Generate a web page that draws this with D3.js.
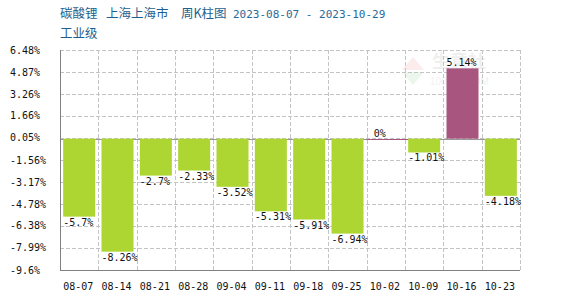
<!DOCTYPE html>
<html>
<head>
<meta charset="utf-8">
<script src="https://cdn.jsdelivr.net/npm/d3@7"></script>
<style>
  body { margin: 0; background: #fff; }
  svg { display: block; }
  .mono { font-family: "DejaVu Sans Mono", "Liberation Mono", monospace; }
  .cjk { font-family: "Noto Sans CJK SC", sans-serif; }
</style>
</head>
<body>
<svg id="chart" width="570" height="300"></svg>
<script>
(function() {
  'use strict';

  // weekly change, %
  var weeks = ['08-07', '08-14', '08-21', '08-28', '09-04', '09-11',
    '09-18', '09-25', '10-02', '10-09', '10-16', '10-23'];
  var changes = [-5.7, -8.26, -2.7, -2.33, -3.52, -5.31, -5.91, -6.94, 0, -1.01, 5.14, -4.18];
  var yTicks = [6.48, 4.87, 3.26, 1.66, 0.05, -1.56, -3.17, -4.78, -6.38, -7.99, -9.6];
  var titleParts = ['碳酸锂', '上海上海市', '周K柱图'];
  var dateRange = '2023-08-07 - 2023-10-29';

  var svg = d3.select('#chart');
  var left = 60, right = 520, top = 50, bottom = 270;

  var x = d3.scaleBand().domain(weeks).range([left, right]).paddingInner(0).paddingOuter(0);
  var y = d3.scaleLinear().domain([-9.6, 6.48]).range([bottom, top]);
  var bw = 32, off = (x.bandwidth() - bw) / 2;

  // title
  var tx = [60, 106, 181];
  svg.append('g').attr('class', 'cjk').attr('font-size', 12.5).attr('fill', '#1d5f8e')
    .selectAll('text').data(titleParts).enter().append('text')
    .attr('x', function(d, i) { return tx[i]; }).attr('y', 18)
    .text(function(d) { return d; });
  svg.append('text').attr('class', 'mono').attr('font-size', 11).attr('fill', '#2a6a98')
    .attr('x', 233).attr('y', 18).text(dateRange);
  svg.append('text').attr('class', 'cjk').attr('x', 60).attr('y', 38).attr('fill', '#1d5f8e')
    .attr('font-size', 12.5).text('工业级');

  // watermark
  var wm = svg.append('g').attr('opacity', 0.07);
  wm.append('path').attr('d', 'M402,70 L413,57 L424,70 Z').attr('fill', '#d00');
  wm.append('path').attr('d', 'M402,72 L413,85 L424,72 Z').attr('fill', '#080');
  wm.append('text').attr('x', 432).attr('y', 68).attr('class', 'cjk')
    .attr('font-size', 18).attr('font-weight', 'bold').attr('fill', '#333').text('生意社');
  wm.append('text').attr('x', 430).attr('y', 85).attr('font-family', '"Liberation Sans", Arial')
    .attr('font-size', 10).attr('fill', '#333').text('100PPI.COM');

  // grid
  var grid = svg.append('g').attr('stroke', '#c4c4c4').attr('stroke-dasharray', '4,2');
  grid.selectAll('line.h').data(yTicks).enter().append('line')
    .attr('x1', left).attr('x2', right)
    .attr('y1', function(d) { return Math.round(y(d)) + 0.5; })
    .attr('y2', function(d) { return Math.round(y(d)) + 0.5; });
  grid.selectAll('line.v').data(weeks).enter().append('line')
    .attr('x1', function(d) { return Math.round(x(d) + x.bandwidth()) + 0.5; })
    .attr('x2', function(d) { return Math.round(x(d) + x.bandwidth()) + 0.5; })
    .attr('y1', top).attr('y2', bottom);

  // y tick labels
  svg.append('g').attr('class', 'mono').attr('font-size', 10).attr('fill', '#111')
    .selectAll('text').data(yTicks).enter().append('text')
    .attr('x', 10).attr('y', function(d) { return y(d) + 3.5; })
    .text(function(d) { return (d === -9.6 ? '-9.6' : d.toFixed(2)) + '%'; });

  // zero line
  svg.append('line').attr('x1', left).attr('x2', right)
    .attr('y1', Math.round(y(0)) + 0.5).attr('y2', Math.round(y(0)) + 0.5)
    .attr('stroke', '#999');

  // bars
  svg.selectAll('rect.bar').data(changes).enter().append('rect')
    .attr('x', function(d, i) { return d === 0 ? x(weeks[i]) : x(weeks[i]) + off; })
    .attr('width', function(d) { return d === 0 ? x.bandwidth() + off : bw; })
    .attr('y', function(d) { return d === 0 ? Math.round(y(0)) : y(Math.max(d, 0)); })
    .attr('height', function(d) { return d === 0 ? 1 : Math.abs(y(d) - y(0)); })
    .attr('fill', function(d) { return d >= 0 ? '#a8567f' : '#add633'; });

  // value labels
  svg.append('g').attr('class', 'mono').attr('font-size', 10).attr('fill', '#111')
    .selectAll('text').data(changes).enter().append('text')
    .attr('x', function(d, i) { return x(weeks[i]) + off + (d === 0 ? 4 : 0); })
    .attr('y', function(d) { return d < 0 ? y(d) + 9 : y(d) - 2; })
    .text(function(d) { return d + '%'; });

  // axes lines
  svg.append('line').attr('x1', left + 0.5).attr('x2', left + 0.5).attr('y1', top).attr('y2', bottom)
    .attr('stroke', '#808080');
  svg.append('line').attr('x1', left).attr('x2', right).attr('y1', bottom + 0.5).attr('y2', bottom + 0.5)
    .attr('stroke', '#808080');

  // x labels
  svg.append('g').attr('class', 'mono').attr('font-size', 10).attr('fill', '#111')
    .selectAll('text').data(weeks).enter().append('text')
    .attr('x', function(d) { return x(d) + off; })
    .attr('y', 290)
    .text(function(d) { return d; });
})();
</script>
</body>
</html>
